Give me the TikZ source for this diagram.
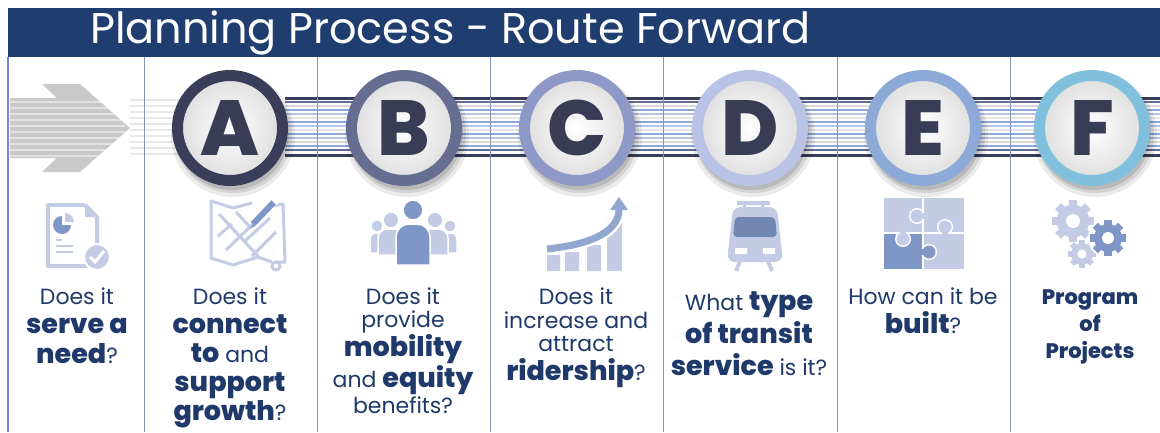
\documentclass[tikz,border=0pt]{standalone}
\usepackage{fontspec}
\setmainfont{Poppins}[BoldFont={Poppins ExtraBold}]
\definecolor{navy}{HTML}{1F3D6F}
\definecolor{txt}{HTML}{1F3A6A}
\definecolor{ink}{HTML}{393C55}
\definecolor{ringA}{HTML}{3B3E5A}
\definecolor{ringB}{HTML}{656D90}
\definecolor{ringC}{HTML}{8F99C7}
\definecolor{ringD}{HTML}{B9C3E5}
\definecolor{ringE}{HTML}{8CA9D7}
\definecolor{ringF}{HTML}{80C0DD}
\definecolor{iconL}{HTML}{C3CCE4}
\definecolor{iconD}{HTML}{7F97C6}
\definecolor{rulecol}{HTML}{8595B5}
\newcommand\bw[1]{{\fontsize{27}{29}\selectfont\bfseries #1}}
\newcommand\gearicon[4]{%
  \begin{scope}[shift={(#1,#2)}]
    \fill[#4] (0,0) circle ({#3*0.78});
    \foreach \a in {0,45,90,135}
      \fill[#4, rotate=\a] ({-#3*0.2},{-#3}) rectangle ({#3*0.2},{#3});
    \fill[white] (0,0) circle ({#3*0.33});
  \end{scope}}
\tikzset{
  stopring/.style={circle, minimum size=105pt, line width=11pt, inner sep=0pt,
    inner color=white, outer color=black!13, text=ink,
    font=\fontsize{78}{78}\selectfont\bfseries},
  question/.style={align=center, text=txt, inner sep=0pt, anchor=north,
    font=\fontsize{22}{29}\selectfont}
}
\begin{document}
\begin{tikzpicture}[x=1pt,y=-1pt]
\useasboundingbox (0,0) rectangle (1160,432);
\fill[white] (0,0) rectangle (1160,432);

\fill[navy] (8,8) rectangle (1160,57);
\node[anchor=west, text=white, inner sep=0pt, font=\fontsize{43}{43}\selectfont] (title) at (90,33) {Planning Process - Route Forward};

\fill[black!21] (10,98) -- (57,98) -- (42,84) -- (80,84) -- (130,128) -- (80,172) -- (42,172) -- (57,158) -- (10,158) -- cycle;
\foreach \o in {-26,-20,...,28}
  \draw[white, opacity=.45, line width=1.2] (10,128+\o) -- (125,128+\o);
\foreach \o in {-28,-22,...,28}
  \draw[black!9, line width=1.5] (130,128+\o) -- (180,128+\o);

\foreach \o/\col/\w in {-29/ringA/3, -25/ringB/2, -21/black!15/2, -17/ringE/2,
    -13/ringD/2, -9/black!10/2, -5/ringE/2, -1/ringD/2, 3/black!10/2, 7/ringE/2,
    11/ringD/2, 15/black!15/2, 19/ringE/2, 23/ringB/2, 28/ringA/3}
  \draw[\col, line width=\w] (285,127+\o) -- (1160,127+\o);

\draw[ringE!80!blue, line width=1.5] (8,57) -- (8,432);
\foreach \x in {144,317,490,663,837,1010}
  \draw[rulecol, line width=.8] (\x,57) -- (\x,432);

\foreach \l/\x/\col in {A/230/ringA, B/404/ringB, C/577/ringC, D/750/ringD, E/923/ringE, F/1092/ringF}{
  \fill[black, opacity=.08] (\x+3,135) circle (62);
  \fill[black, opacity=.10] (\x+3,134) circle (59);
  \fill[black, opacity=.12] (\x+2,133) circle (57);
  \node[stopring, draw=\col] (\l) at (\x,128) {\l};
}

% document
\draw[iconL, line width=4, line join=round] (85,205) -- (48,205) -- (48,266) -- (90,266);
\draw[iconL, line width=4, line join=round] (85,205) -- (97,217) -- (97,245);
\fill[iconL] (85,205) -- (97,217) -- (85,217) -- cycle;
\fill[iconD] (62,225) circle (9);
\fill[white] (62,225) -- (62,214) -- (74,214) -- (74,225) -- cycle;
\fill[iconL] (65,222) -- (65,213) arc[start angle=-90, end angle=0, radius=9] -- cycle;
\draw[iconL, line width=2.5] (56,240) -- (62,240) (56,246) -- (73,246) (56,252) -- (73,252);
\fill[iconL, draw=white, line width=2] (97,257) circle (13);
\draw[white, line width=3] (90,257) -- (95,262) -- (104,251);

% map
\draw[iconL, line width=3, line join=round] (252,203) -- (233,208) -- (211,201) -- (211,258) -- (233,265) -- (258,257) -- (272,262);
\draw[iconL, line width=3, line join=round] (272,206) -- (283,204) -- (285,262) -- (276,262);
\draw[iconL, line width=3] (276,266) circle (4);
\draw[iconL, line width=3] (219,214) -- (258,256) (236,212) -- (250,227) (244,242) -- (270,218)
  (226,250) -- (255,222) (252,256) -- (276,232) (218,236) -- (232,224);
\draw[iconD, line width=6] (253,224) -- (274,202);
\fill[iconD] (253,224) -- (249,229) -- (255,226) -- cycle;
\draw[white, line width=1] (271,199) -- (277,205);

% people
\fill[iconL, draw=white, line width=1.5] (370,253) [rounded corners=6] -- (370,233) -- (384,233) [sharp corners] -- (384,253) -- cycle;
\fill[iconL, draw=white, line width=1.5] (377,226) circle (6);
\fill[iconL, draw=white, line width=1.5] (442,253) [rounded corners=6] -- (442,233) -- (457,233) [sharp corners] -- (457,253) -- cycle;
\fill[iconL, draw=white, line width=1.5] (450,226) circle (6);
\fill[iconL, draw=white, line width=1.5] (378,255) [rounded corners=9] -- (378,229) -- (404,229) [sharp corners] -- (404,255) -- cycle;
\fill[iconL, draw=white, line width=1.5] (391,220) circle (8);
\fill[iconL, draw=white, line width=1.5] (422,255) [rounded corners=9] -- (422,229) -- (448,229) [sharp corners] -- (448,255) -- cycle;
\fill[iconL, draw=white, line width=1.5] (435,220) circle (8);
\fill[iconD, draw=white, line width=1.5] (396,265) [rounded corners=13] -- (396,224) -- (430,224) [sharp corners] -- (430,265) -- cycle;
\fill[iconD, draw=white, line width=1.5] (413,210) circle (10);

% chart
\fill[iconL] (547,255) rectangle (560,271) (565,252) rectangle (579,271)
  (587,245) rectangle (601,271) (607,222) rectangle (622,271);
\draw[white, line width=12] (547,249) .. controls (595,244) and (619,230) .. (619,209);
\draw[iconD!85, line width=7] (547,249) .. controls (595,244) and (619,230) .. (619,209);
\fill[iconD!85] (610,210) -- (619,197) -- (628,210) -- cycle;

% train
\fill[iconL, rounded corners=8] (727,262) -- (733,207) -- (777,207) -- (783,262) -- cycle;
\fill[iconL] (737,201) rectangle (770,205) (743,205) rectangle (746,209) (761,205) rectangle (764,209);
\fill[iconD!90!black, rounded corners=4] (733,237) -- (735,217) -- (775,217) -- (777,237) -- cycle;
\fill[white] (735,248) rectangle (747,254) (763,248) rectangle (775,254);
\draw[iconL, line width=4] (740,261) -- (736,271) (768,261) -- (772,271);

% puzzle
\fill[iconL] (884,198) rectangle (964,269);
\fill[iconD] (884,233) rectangle (923,269);
\draw[white, line width=2] (923,198) -- (923,269) (884,233) -- (964,233);
\foreach \cx/\cy/\col/\nx/\ny in {917/216/iconL/924/216, 945/227/iconL/945/234,
    903/239/iconL/903/232, 929/252/iconD/922/252}{
  \fill[white] (\cx,\cy) circle (8);
  \fill[\col] (\cx,\cy) circle (6.5);
  \fill[\col] (\nx-3,\ny-3) rectangle (\nx+3,\ny+3);
}

% gears
\gearicon{1073}{221}{21}{iconL}
\gearicon{1082}{254}{14}{iconL}
\fill[white] (1108,238) circle (20);
\gearicon{1108}{238}{18}{iconD}

\node[question] (q1) at (77,288) {Does it\\ \bw{serve a}\\[1pt] \bw{need}?};
\node[question] (q2) at (230,288) {Does it\\ \bw{connect}\\ \bw{to} and\\ \bw{support}\\ \bw{growth}?};
\node[question] (q3) at (403,288) {Does it\\[-6pt] provide\\ \bw{mobility}\\ and \bw{equity}\\[-3pt] benefits?};
\node[question] (q4) at (576,288) {Does it\\[-5pt] increase and\\[-6pt] attract\\ \bw{ridership}?};
\node[question] (q5) at (749,291) {What \bw{type}\\[3pt] \bw{of transit}\\[3pt] \bw{service} is it?};
\node[question] (q6) at (923,288) {How can it be\\ \bw{built}?};
\node[question, font=\fontsize{21}{27}\selectfont\bfseries] (q7) at (1090,289) {Program\\ of\\ Projects};
\end{tikzpicture}
\end{document}
